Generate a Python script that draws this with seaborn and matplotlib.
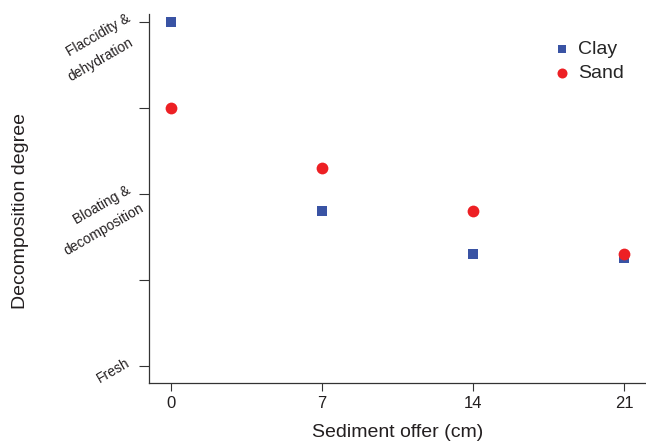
import pandas as pd
import seaborn as sns
import matplotlib.pyplot as plt

# sediment depth (cm) and decomposition degree per substrate
depth = [0, 7, 14, 21]
clay = [4.0, 1.8, 1.3, 1.25]
sand = [3.0, 2.3, 1.8, 1.3]

stage_ticks = [0, 1, 2, 3, 4]
stage_line1 = ['Fresh', '', 'Bloating &', '', 'Flaccidity &']
stage_line2 = ['', '', 'decomposition', '', 'dehydration']

df_clay = pd.DataFrame({'depth': depth, 'degree': clay})
df_sand = pd.DataFrame({'depth': depth, 'degree': sand})

sns.set_style('ticks')
plt.rcParams['font.family'] = ['Liberation Sans', 'DejaVu Sans']
text_col = '#231f20'

fig = plt.figure(figsize=(6.46, 4.41), dpi=100)
ax = fig.add_axes([0.2307, 0.1315, 0.7693, 0.8365])

sns.scatterplot(data=df_clay, x='depth', y='degree', color='#3953a4',
                marker='s', s=48, linewidth=0, label='Clay', ax=ax)
sns.scatterplot(data=df_sand, x='depth', y='degree', color='#ed2024',
                marker='o', s=72, linewidth=0, label='Sand', ax=ax)

ax.set_xlim(-1, 22)
ax.set_ylim(-0.2, 4.09)
ax.set_xticks(depth)
ax.set_yticks(stage_ticks)
ax.set_yticklabels([])
ax.tick_params(axis='x', labelsize=12, length=6, color='#333333', pad=3,
               labelcolor=text_col)
ax.tick_params(axis='y', length=7, color='#333333')

# slanted stage labels: second line sits just under the first, slightly back
for y, l1, l2 in zip(stage_ticks, stage_line1, stage_line2):
    if not l1:
        continue
    t1 = ax.annotate(l1, xy=(0, y), xycoords=ax.get_yaxis_transform(),
                     xytext=(-14.4, 3), textcoords='offset points',
                     ha='right', va='center', rotation=30,
                     rotation_mode='anchor', fontsize=10, color=text_col)
    if l2:
        ax.annotate(l2, xy=(0.5, 0.5), xycoords=t1,
                    xytext=(1.8, -17.3), textcoords='offset points',
                    ha='center', va='center', rotation=30,
                    rotation_mode='anchor', fontsize=10, color=text_col)

ax.set_xlabel('Sediment offer (cm)', fontsize=14, color=text_col, labelpad=10)
ax.set_ylabel('Decomposition degree', fontsize=14, color=text_col)
ax.yaxis.set_label_coords(-0.241, 0.466)

sns.despine(ax=ax)
for side in ['left', 'bottom']:
    ax.spines[side].set_color('#333333')
    ax.spines[side].set_linewidth(0.9)

handles, labels = ax.get_legend_handles_labels()
ax.legend(handles=handles, labels=labels, loc='upper right',
          bbox_to_anchor=(0.99, 0.975), frameon=False, fontsize=14,
          handlelength=0.8, handletextpad=0.4, labelspacing=0.3,
          borderaxespad=0.5, markerscale=0.85)

plt.savefig('out.png', dpi=100)
